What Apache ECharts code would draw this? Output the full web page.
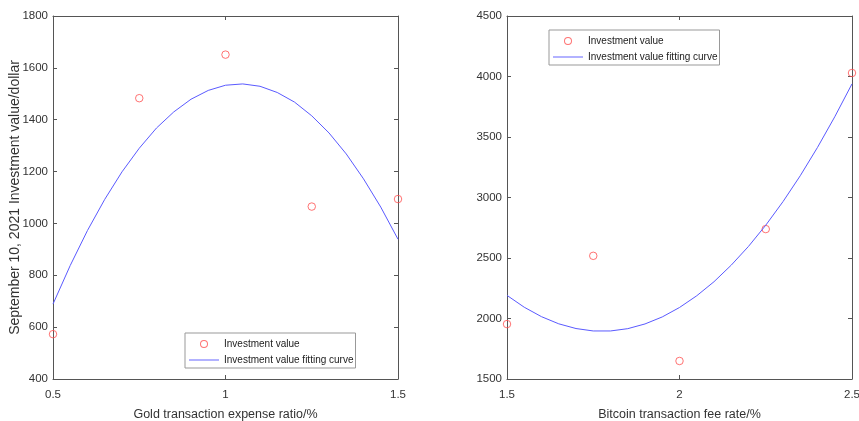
<!DOCTYPE html>
<html>
<head>
<meta charset="utf-8">
<script src="https://cdn.jsdelivr.net/npm/echarts@6/dist/echarts.min.js"></script>
<style>html,body{margin:0;padding:0;background:#fff;}#c{width:859px;height:421px;}</style>
</head>
<body>
<div id="c"></div>
<script>
// Left chart: gold
const goldX = [0.5, 0.75, 1.0, 1.25, 1.5];
const goldY = [573, 1483, 1651, 1065, 1094];
const goldFitX = [0.5, 0.55, 0.6, 0.65, 0.7, 0.75, 0.8, 0.85, 0.9, 0.95, 1.0,
                  1.05, 1.1, 1.15, 1.2, 1.25, 1.3, 1.35, 1.4, 1.45, 1.5];
const goldFitY = [689, 838, 973, 1093, 1199, 1290, 1368, 1430, 1479, 1513, 1533,
                  1538, 1529, 1505, 1468, 1415, 1349, 1268, 1172, 1063, 939];
// Right chart: bitcoin
const btcX = [1.5, 1.75, 2.0, 2.25, 2.5];
const btcY = [1954, 2518, 1649, 2739, 4029];
const btcFitX = [1.5, 1.55, 1.6, 1.65, 1.7, 1.75, 1.8, 1.85, 1.9, 1.95, 2.0,
                 2.05, 2.1, 2.15, 2.2, 2.25, 2.3, 2.35, 2.4, 2.45, 2.5];
const btcFitY = [2191, 2093, 2015, 1956, 1917, 1897, 1897, 1916, 1955, 2013, 2091,
                 2188, 2304, 2441, 2596, 2771, 2966, 3180, 3414, 3667, 3939];

const leftXTicks = {min: 0.5, max: 1.5, interval: 0.5};
const leftYTicks = {min: 400, max: 1800, interval: 200};
const rightXTicks = {min: 1.5, max: 2.5, interval: 0.5};
const rightYTicks = {min: 1500, max: 4500, interval: 500};

const scatterName = 'Investment value';
const lineName = 'Investment value fitting curve';
const xNameLeft = 'Gold transaction expense ratio/%';
const xNameRight = 'Bitcoin transaction fee rate/%';
const yNameLeft = 'September 10, 2021 Investment value/dollar';

const FONT = '"Liberation Sans", Arial, sans-serif';
const AX = '#555';
const TXT = '#333';
const RED = '#ff5050';
const BLUE = '#5a5aff';
const RING = 'path://M10,0A10,10 0 1,1 10,20A10,10 0 1,1 10,0ZM10,2.5A7.5,7.5 0 1,0 10,17.5A7.5,7.5 0 1,0 10,2.5Z';

function zip(a, b) { return a.map((v, i) => [v, b[i]]); }

function xAxis(grid, ticks, pos, name) {
  return {
    type: 'value', gridIndex: grid, position: pos,
    min: ticks.min, max: ticks.max, interval: ticks.interval,
    name: name || '', nameLocation: 'middle', nameGap: 29, nameMoveOverlap: false,
    nameTextStyle: {fontFamily: FONT, fontSize: 12.5, color: TXT},
    axisLine: {show: true, onZero: false, lineStyle: {color: AX, width: 1}},
    axisTick: {show: true, inside: true, length: 4, lineStyle: {color: AX}},
    axisLabel: {show: pos === 'bottom', fontFamily: FONT, fontSize: 11.5, color: TXT, margin: 10,
      formatter: v => String(v)},
    splitLine: {show: false}
  };
}
function yAxis(grid, ticks, pos, name) {
  return {
    type: 'value', gridIndex: grid, position: pos,
    min: ticks.min, max: ticks.max, interval: ticks.interval,
    name: name || '', nameLocation: 'middle', nameGap: 31, nameMoveOverlap: false,
    nameTextStyle: {fontFamily: FONT, fontSize: 14, color: TXT},
    axisLine: {show: true, onZero: false, lineStyle: {color: AX, width: 1}},
    axisTick: {show: true, inside: true, length: 4, lineStyle: {color: AX}},
    axisLabel: {show: pos === 'left', fontFamily: FONT, fontSize: 11.5, color: TXT, margin: 5,
      formatter: v => String(v)},
    splitLine: {show: false}
  };
}

const legendBase = {
  orient: 'vertical', itemWidth: 30, itemHeight: 8, itemGap: 6,
  borderColor: '#999', borderWidth: 1, backgroundColor: '#fff',
  padding: [6, 2, 3, 4],
  textStyle: {fontFamily: FONT, fontSize: 10, color: '#222'},
  data: [
    {name: scatterName, icon: RING, itemStyle: {color: RED, borderWidth: 0}},
    {name: lineName, icon: 'path://M0,0L32,0L32,1L0,1Z', itemStyle: {color: BLUE}}
  ]
};

const chart = echarts.init(document.getElementById('c'));
chart.setOption({
  backgroundColor: '#fff',
  animation: false,
  grid: [
    {left: 53, right: 461, top: 16, bottom: 42, outerBoundsMode: 'none', containLabel: false},
    {left: 507, right: 7, top: 16, bottom: 42, outerBoundsMode: 'none', containLabel: false}
  ],
  xAxis: [
    xAxis(0, leftXTicks, 'bottom', xNameLeft),
    xAxis(1, rightXTicks, 'bottom', xNameRight),
    xAxis(0, leftXTicks, 'top'),
    xAxis(1, rightXTicks, 'top')
  ],
  yAxis: [
    yAxis(0, leftYTicks, 'left', yNameLeft),
    yAxis(1, rightYTicks, 'left'),
    yAxis(0, leftYTicks, 'right'),
    yAxis(1, rightYTicks, 'right')
  ],
  legend: [
    Object.assign({}, legendBase, {left: 185, top: 333}),
    Object.assign({}, legendBase, {left: 549, top: 30})
  ],
  series: [
    {name: scatterName, type: 'scatter', xAxisIndex: 0, yAxisIndex: 0, data: zip(goldX, goldY),
     symbol: 'circle', symbolSize: 7.5, itemStyle: {color: 'rgba(255,255,255,0)', borderColor: RED, borderWidth: 1}},
    {name: lineName, type: 'line', xAxisIndex: 0, yAxisIndex: 0, data: zip(goldFitX, goldFitY),
     smooth: false, symbol: 'none', lineStyle: {color: BLUE, width: 1}, itemStyle: {color: BLUE}},
    {name: scatterName, type: 'scatter', xAxisIndex: 1, yAxisIndex: 1, data: zip(btcX, btcY),
     symbol: 'circle', symbolSize: 7.5, itemStyle: {color: 'rgba(255,255,255,0)', borderColor: RED, borderWidth: 1}},
    {name: lineName, type: 'line', xAxisIndex: 1, yAxisIndex: 1, data: zip(btcFitX, btcFitY),
     smooth: false, symbol: 'none', lineStyle: {color: BLUE, width: 1}, itemStyle: {color: BLUE}}
  ]
});
</script>
</body>
</html>
